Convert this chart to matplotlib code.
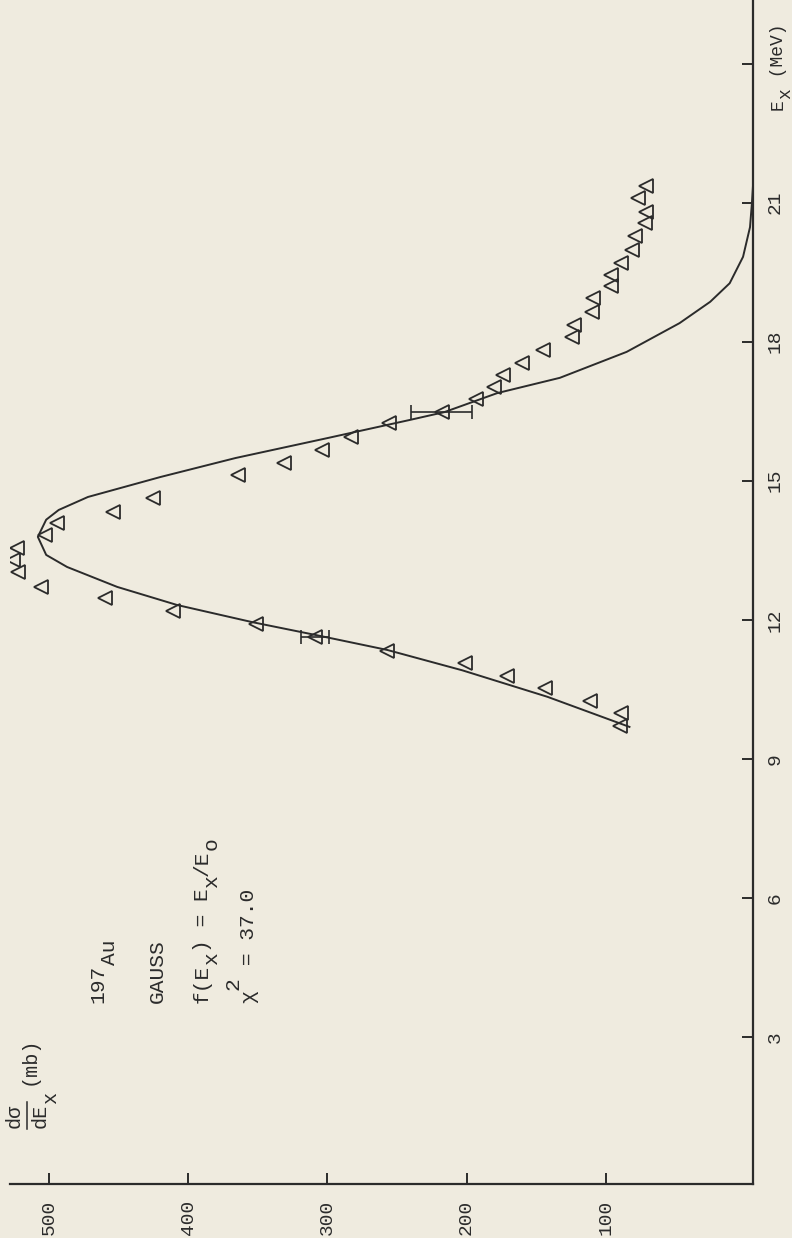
import matplotlib
matplotlib.use('Agg')
import matplotlib.pyplot as plt

# measured cross sections (mb) vs excitation energy (MeV), 197Au
energy = [9.71, 9.99, 10.25, 10.53, 10.79, 11.07, 11.33, 11.63, 11.91, 12.19,
          12.47, 12.71, 13.03, 13.29, 13.55, 13.83, 14.09, 14.33, 14.63, 15.12,
          15.38, 15.66, 15.94, 16.24, 16.48, 16.76, 17.02, 17.28, 17.54, 17.82,
          18.11, 18.36, 18.65, 18.94, 19.19, 19.44, 19.69, 19.98, 20.27, 20.55,
          20.80, 21.09, 21.36]
sigma = [90, 89, 111, 144, 171, 201, 257, 309, 351, 411,
         460, 506, 522, 526, 523, 503, 494, 454, 425, 364,
         331, 304, 283, 256, 218, 193, 180, 174, 160, 145,
         124, 123, 110, 109, 96, 96, 89, 81, 79, 72,
         71, 77, 71]

# points carrying error bars
err_energy = [11.63, 16.48]
err_sigma = [309, 218]
err_size = [10, 22]

# gauss fit curve as drawn
fit_energy = [9.69, 10.34, 10.91, 11.35, 11.67, 11.95, 12.32, 12.71, 13.14, 13.40,
              13.79, 14.16, 14.37, 14.65, 15.08, 15.49, 15.92, 16.31, 16.48, 16.89,
              17.22, 17.78, 18.40, 18.86, 19.26, 19.83, 20.47, 21.00, 21.34]
fit_sigma = [83, 142, 203, 257, 308, 354, 408, 451, 487, 502,
             508, 502, 493, 472, 420, 366, 300, 241, 216, 178,
             133, 85, 47, 25, 11, 1.4, -3.6, -5, -5.7]

e_ticks = [3, 6, 9, 12, 15, 18, 21, 24]
e_labels = ['3', '6', '9', '12', '15', '18', '21', '']
s_ticks = [100, 200, 300, 400, 500]
s_labels = ['100', '200', '300', '400', '500']

paper = '#efebdf'
ink = '#2b2b2b'

plt.rcParams['font.family'] = ['Liberation Mono', 'DejaVu Sans']

W, H = 792, 1238
fs = 14
fs_note = 15.3

fig = plt.figure(figsize=(W / 100, H / 100), dpi=100)
fig.patch.set_facecolor(paper)

# page is turned: cross section runs right-to-left, energy bottom-to-top
ax = fig.add_axes([10 / W, 1 - 1184 / H, (753 - 10) / W, 1184 / H])
ax.set_facecolor(paper)
ax.set_xlim(528, -5.75)
ax.set_ylim(-0.17, 25.37)

for s in ['top', 'left']:
    ax.spines[s].set_visible(False)
for s in ['right', 'bottom']:
    ax.spines[s].set_linewidth(1.6)
    ax.spines[s].set_color(ink)

ax.yaxis.tick_right()
ax.set_yticks(e_ticks)
ax.set_yticklabels(e_labels, rotation=90, va='center')
ax.set_xticks(s_ticks)
ax.set_xticklabels(s_labels, rotation=90)
ax.tick_params(axis='y', direction='in', length=8, width=1.4, pad=10,
               labelsize=fs, colors=ink)
ax.tick_params(axis='x', direction='in', length=8, width=1.4, pad=11,
               labelsize=fs, colors=ink)

ax.plot(fit_sigma, fit_energy, color=ink, lw=1.4, clip_on=False)
ax.plot(sigma, energy, ls='none', marker='<', ms=10, mfc='none',
        mec=ink, mew=1.3)
ax.errorbar(err_sigma, err_energy, xerr=err_size, fmt='none', ecolor=ink,
            elinewidth=1.2, capsize=5, capthick=1.2)


def typed(x, y, parts, size=fs_note):
    # typewriter style: sub/superscripts are full size, only shifted
    pitch = 0.6 * size * 100 / 72
    for txt, shift in parts:
        fig.text((x + shift) / W, 1 - y / H, txt, rotation=90,
                 rotation_mode='anchor', ha='left', va='baseline',
                 fontsize=size, color=ink)
        y -= len(txt) * pitch


typed(115, 1003, [('197', -12), ('Au', 0)])
typed(163, 1003, [('GAUSS', 0)])
typed(208, 1003, [('f(E', 0), ('x', 9), (') = E', 0), ('x', 9),
                  ('/E', 0), ('o', 9)])
typed(254, 1003, [('χ', 0), ('2', -16), (' = 37.0', 0)])

# y label: d sigma / d E_x (mb)
typed(20, 1128, [('dσ', 0)], size=14.5)
typed(46, 1128, [('dE', 0), ('x', 10)], size=14.5)
fig.add_artist(plt.Line2D([27 / W, 27 / W], [1 - 1102 / H, 1 - 1129 / H],
                          color=ink, lw=1.1))
typed(35, 1085, [('(mb)', 0)], size=14.5)

# x label: E_x (MeV)
typed(783, 110, [('E', 0), ('x', 7), (' (MeV)', 0)], size=13)

fig.savefig('out.png', dpi=100, facecolor=paper)
